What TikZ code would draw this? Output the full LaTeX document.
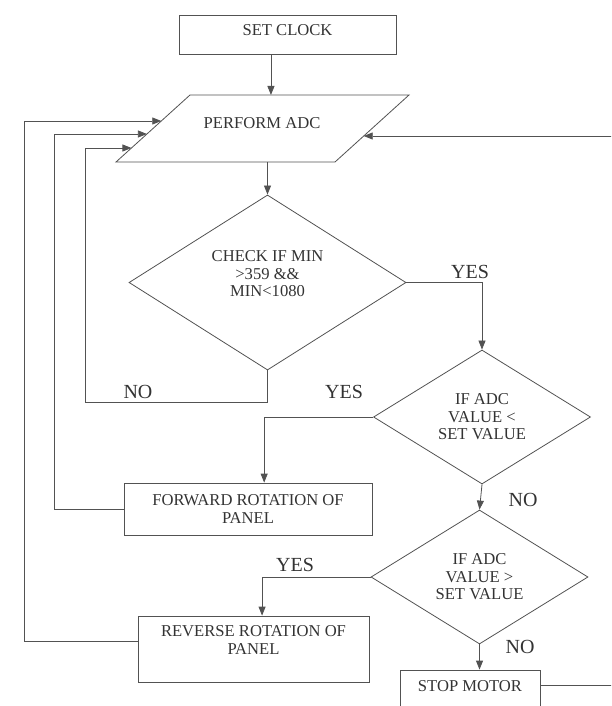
\documentclass[tikz,border=0pt]{standalone}
\usepackage{fontspec}
\setmainfont{Liberation Serif}
\usetikzlibrary{arrows.meta,shapes.geometric,calc}
\newcommand{\upby}[2]{\raisebox{#1}[\height][\depth]{#2}}
\begin{document}
\begin{tikzpicture}[x=1pt,y=-1pt,
  line/.style={draw=black!68, line width=0.8pt},
  arr/.style={line, -{Triangle[length=9pt,width=7pt]}},
  txt/.style={text=black!80, font=\fontsize{16.6}{18}\selectfont},
  box/.style={line, rectangle, inner sep=0pt, align=center, txt},
  dec/.style={line, diamond, inner sep=0pt, align=center, text=black!80, font=\fontsize{16.6}{17.5}\selectfont},
  lbl/.style={text=black!80, font=\fontsize{20}{22}\selectfont, inner sep=0pt}]
\useasboundingbox (0,0) rectangle (611,706);
\clip (0,0) rectangle (611,706);

% nodes
\node[box, minimum width=217pt, minimum height=39pt] (clock) at (287.5,34.5) {\upby{4pt}{SET CLOCK}};

\coordinate (atl) at (190,95);
\coordinate (atr) at (409,95);
\coordinate (abr) at (335,162);
\coordinate (abl) at (116,162);
\draw[line] (atl) -- (atr) -- (abr) -- (abl) -- cycle;
\node[txt, inner sep=0pt] (adc) at (262,123) {PERFORM ADC};

\node[dec, minimum width=277pt, minimum height=159pt] (d1) at (267.5,282.5)
  {CHECK IF MIN\\>359 \&\&\\MIN<1080\\\phantom{X}};
\node[dec, minimum width=217pt, minimum height=106pt] (d2) at (482,417)
  {IF ADC\\VALUE <\\SET VALUE};
\node[dec, minimum width=217pt, minimum height=106pt] (d3) at (479.5,577)
  {IF ADC\\VALUE >\\SET VALUE};

\node[box, minimum width=248pt, minimum height=52pt] (fwd) at (248,509)
  {FORWARD ROTATION OF\\PANEL};
\node[box, minimum width=231pt, minimum height=66pt] (rev) at (253.5,649)
  {REVERSE ROTATION OF\\PANEL\\\phantom{X}};
\node[box, minimum width=140pt, minimum height=40pt] (stop) at (470,690)
  {\upby{4pt}{STOP MOTOR}};

% labels
\node[lbl] (yes1) at (470,272) {YES};
\node[lbl] (no1) at (138,392) {NO};
\node[lbl] (yes2) at (344,392) {YES};
\node[lbl] (no2) at (523,500) {NO};
\node[lbl] (yes3) at (295,565) {YES};
\node[lbl] (no3) at (520,647) {NO};

% helper coordinates
\coordinate (in1) at ($(atl)!0.388!(abl)$);
\coordinate (in2) at ($(atl)!0.582!(abl)$);
\coordinate (in3) at ($(atl)!0.791!(abl)$);
\coordinate (inR) at ($(atr)!0.612!(abr)$);
\coordinate (x1) at (24,0);
\coordinate (x2) at (54,0);
\coordinate (nob) at (85,402);
\coordinate (redge) at (615,0);
\coordinate (cout) at ($(clock.south west)!0.424!(clock.south east)$);
\coordinate (fin) at ($(fwd.north west)!0.565!(fwd.north east)$);
\coordinate (rin) at ($(rev.north west)!0.537!(rev.north east)$);
\coordinate (rout) at ($(rev.north west)!0.39!(rev.south west)$);
\coordinate (sout) at ($(stop.north east)!0.375!(stop.south east)$);

% connectors
\draw[arr] (cout) -- (cout |- atl);
\draw[arr] (d1.north |- abl) -- (d1.north);
\draw[arr] (d1.east) -| (d2.north);
\draw[arr] (d1.south) |- (nob) -- (nob |- in3) -- (in3);
\draw[arr] (d2.west) -| (fin);
\draw[arr] (d2.south) -- (d3.north);
\draw[arr] (d3.west) -| (rin);
\draw[arr] (d3.south) -- (d3.south |- stop.north);
\draw[arr] (fwd.west) -| (x2 |- in2) -- (in2);
\draw[arr] (rout) -| (x1 |- in1) -- (in1);
\draw[line] (sout) -- (sout -| redge);
\draw[arr] (redge |- inR) -- (inR);
\end{tikzpicture}
\end{document}
